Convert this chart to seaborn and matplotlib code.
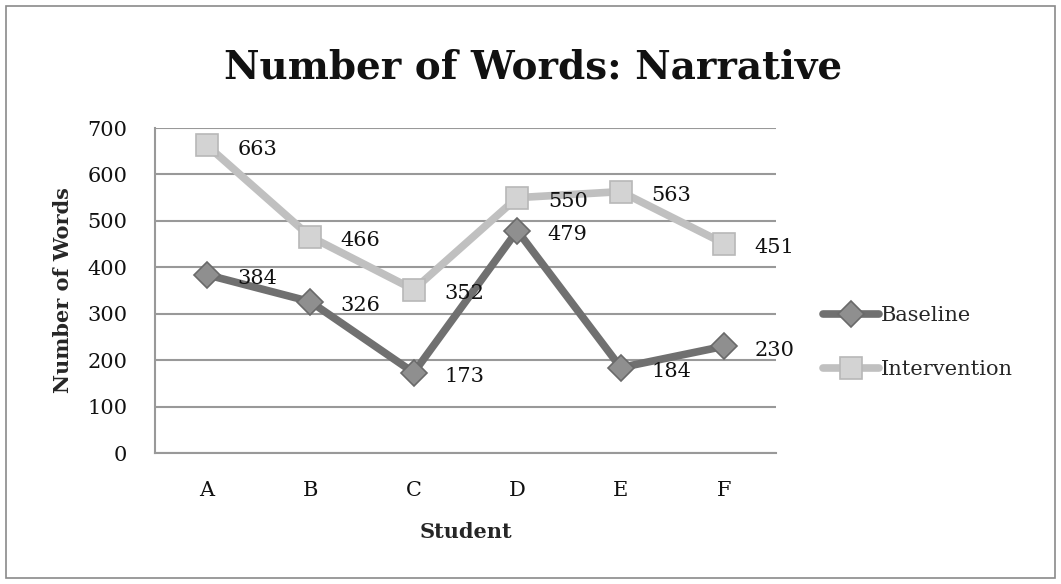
import matplotlib
matplotlib.use("Agg")
import matplotlib.pyplot as plt
import seaborn as sns
import pandas as pd
from matplotlib.patches import Rectangle

# data
students = ["A", "B", "C", "D", "E", "F"]
baseline = [384, 326, 173, 479, 184, 230]
intervention = [663, 466, 352, 550, 563, 451]

sns.set_style("white")
plt.rcParams["font.family"] = ["DejaVu Serif"]

fig = plt.figure(figsize=(10.61, 5.84), dpi=100)
ax = fig.add_axes([0.1461, 0.2243, 0.5853, 0.5565])

df_base = pd.DataFrame({"Student": students, "Words": baseline})
df_int = pd.DataFrame({"Student": students, "Words": intervention})

sns.lineplot(data=df_base, x="Student", y="Words", ax=ax, color="#707070",
             linewidth=5.5, marker="D", markersize=13, markerfacecolor="#8f8f8f",
             markeredgecolor="#6a6a6a", markeredgewidth=1.2, label="Baseline",
             solid_capstyle="round", zorder=3)
sns.lineplot(data=df_int, x="Student", y="Words", ax=ax, color="#c0c0c0",
             linewidth=5.5, marker="s", markersize=16, markerfacecolor="#d3d3d3",
             markeredgecolor="#b8b8b8", markeredgewidth=1.2, label="Intervention",
             solid_capstyle="round", zorder=3)

# value labels to the right of each point
for i, v in enumerate(baseline):
    ax.annotate(str(v), (i, v), xytext=(22, -3), textcoords="offset points",
                ha="left", va="center", fontsize=15, color="#111111", zorder=4)
for i, v in enumerate(intervention):
    ax.annotate(str(v), (i, v), xytext=(22, -3), textcoords="offset points",
                ha="left", va="center", fontsize=15, color="#111111", zorder=4)

ax.set_xlim(-0.5, 5.5)
ax.set_ylim(0, 700)
ax.set_yticks(range(0, 701, 100))
ax.yaxis.grid(True, color="#999999", linewidth=1.5)
ax.set_axisbelow(True)
for s in ["top", "right"]:
    ax.spines[s].set_visible(False)
for s in ["left", "bottom"]:
    ax.spines[s].set_color("#999999")
    ax.spines[s].set_linewidth(1.5)
ax.tick_params(axis="both", length=0, labelsize=15, colors="#111111")
ax.tick_params(axis="y", pad=20)
ax.tick_params(axis="x", pad=20)

ax.set_xlabel("Student", fontsize=15, fontweight="bold", labelpad=16)
ax.set_ylabel("Number of Words", fontsize=15, fontweight="bold", labelpad=10)
fig.text(0.502, 0.885, "Number of Words: Narrative", ha="center", va="center",
         fontsize=28, fontweight="bold", color="#111111")

leg = ax.legend(loc="center left", bbox_to_anchor=(1.045, 0.34), frameon=False,
                fontsize=15, handlelength=2.7, handletextpad=0.1, labelspacing=1.7)

# thin frame around the whole chart
fig.patches.append(Rectangle((0.006, 0.01), 0.988, 0.98, transform=fig.transFigure,
                             fill=False, edgecolor="#8a8a8a", linewidth=1.2))

fig.savefig("out.png", dpi=100)
